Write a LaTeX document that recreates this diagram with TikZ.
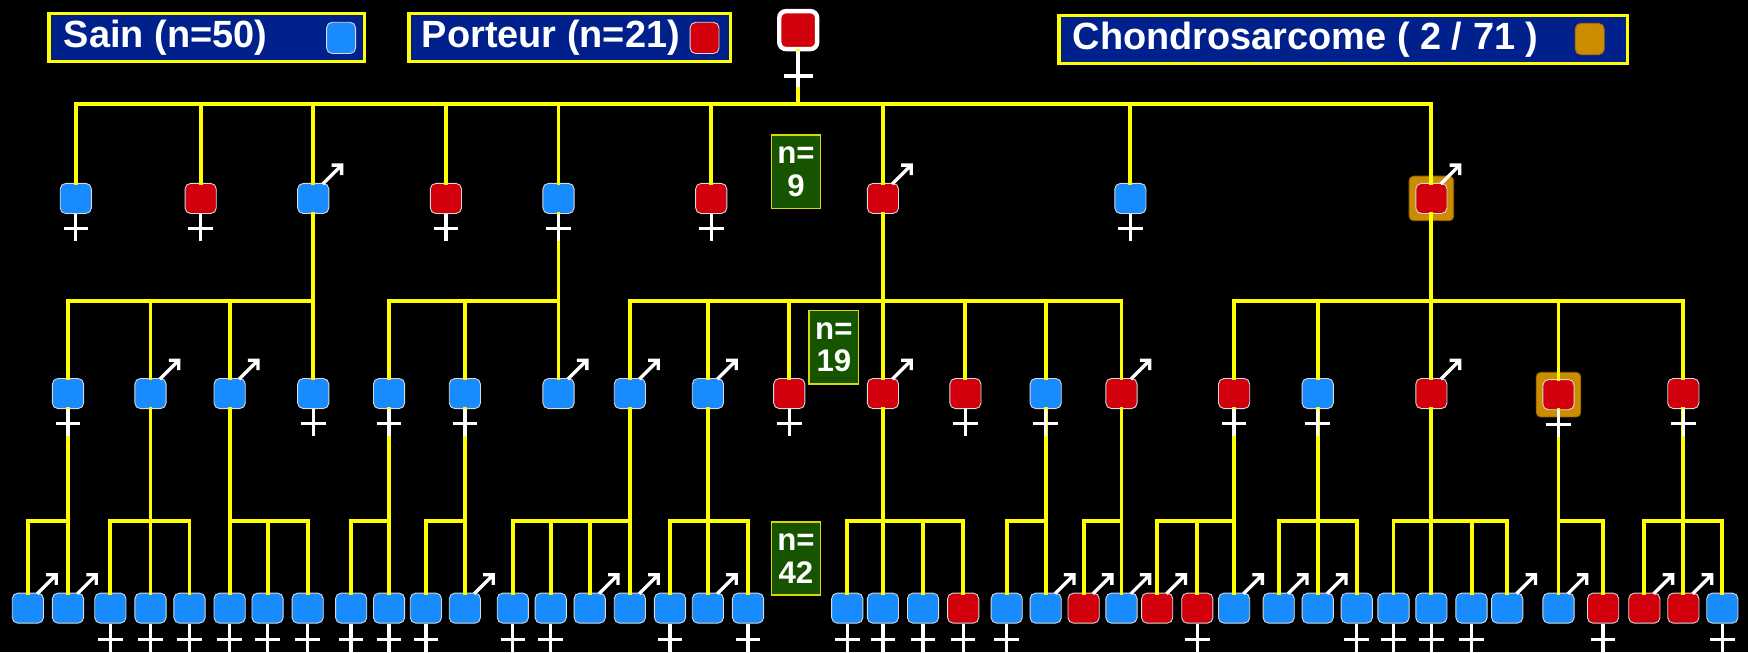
\documentclass[tikz,border=0pt]{standalone}
\usepackage{fontspec}
\setmainfont{Liberation Sans}
\definecolor{nblue}{RGB}{24,140,255}
\definecolor{nred}{RGB}{210,0,12}
\definecolor{ngold}{RGB}{204,140,0}
\definecolor{lblue}{RGB}{0,32,140}
\definecolor{ngreen}{RGB}{22,84,0}
\definecolor{pyellow}{RGB}{255,255,0}
\tikzset{
  link/.style={draw=pyellow, line width=1.75pt, line cap=rect},
  ind/.style={rectangle, rounded corners=2.5pt, draw=white!70!gray, line width=0.4pt, minimum width=14pt, minimum height=13.5pt, inner sep=0pt},
  bl/.style={ind, fill=nblue},
  rd/.style={ind, fill=nred},
  gthree/.style={minimum width=14pt, minimum height=13.5pt},
  hl/.style={rectangle, rounded corners=2pt, fill=ngold, draw=ngold!70!black, line width=0.4pt, minimum width=20pt, minimum height=20pt},
  sym/.style={draw=white, line width=1.5pt, line join=miter},
  legbox/.style={rectangle, fill=lblue, draw=pyellow, line width=1.5pt, minimum height=21.5pt, inner sep=0pt},
  legtext/.style={text=white, font=\fontsize{17}{20}\selectfont\bfseries, anchor=west, inner sep=0pt},
  legmark/.style={ind, minimum width=13pt, minimum height=14pt},
  nbox/.style={rectangle, fill=ngreen, draw=pyellow!85!black, line width=0.8pt, minimum width=22pt, minimum height=33pt, inner sep=0pt, text=white, align=center, font=\fontsize{14}{14.5}\selectfont\bfseries},
  rootnd/.style={rectangle, rounded corners=3pt, fill=nred, draw=white, line width=2pt, minimum size=17pt, inner sep=0pt}
}
\begin{document}
\begin{tikzpicture}[x=0.5pt,y=-0.5pt]
\useasboundingbox (0,0) rectangle (1568,585);
\fill[black] (0,0) rectangle (1568,585);

% legend
\node[legbox, minimum width=141.5pt] (l1) at (185.5,33.5) {};
\node[legtext] (l1t) at (57,34) {Sain (n=50)};
\node[legmark, fill=nblue] (l1m) at (306,34) {};
\node[legbox, minimum width=144pt] (l2) at (511,33.5) {};
\node[legtext] (l2t) at (378,34) {Porteur (n=21)};
\node[legmark, fill=nred] (l2m) at (632,34) {};
\node[legbox, minimum width=255pt] (l3) at (1205,35.5) {};
\node[legtext] (l3t) at (962,36) {Chondrosarcome ( 2 / 71 )};
\node[legmark, fill=ngold, draw=ngold!80!black] (l3m) at (1426,35) {};

% count boxes
\node[nbox] (n9) at (714,154) {n=\\9};
\node[nbox] (n19) at (748,311.5) {n=\\19};
\node[nbox] (n42) at (714,501) {n=\\42};

% highlights
\node[hl] (h1) at (1284,178) {};
\node[hl] (h2) at (1398,354) {};

% root
\node[rootnd] (r) at (716,27) {};

% generation 1
\node[bl] (a1) at (68,178) {};
\node[rd] (a2) at (180,178) {};
\node[bl] (a3) at (281,178) {};
\node[rd] (a4) at (400,178) {};
\node[bl] (a5) at (501,178) {};
\node[rd] (a6) at (638,178) {};
\node[rd] (a7) at (792,178) {};
\node[bl] (a8) at (1014,178) {};
\node[rd] (a9) at (1284,178) {};

% generation 2
\node[bl] (b1) at (61,353) {};
\node[bl] (b2) at (135,353) {};
\node[bl] (b3) at (206,353) {};
\node[bl] (b4) at (281,353) {};
\node[bl] (b5) at (349,353) {};
\node[bl] (b6) at (417,353) {};
\node[bl] (b7) at (501,353) {};
\node[bl] (b8) at (565,353) {};
\node[bl] (b9) at (635,353) {};
\node[rd] (b10) at (708,353) {};
\node[rd] (b11) at (792,353) {};
\node[rd] (b12) at (866,353) {};
\node[bl] (b13) at (938,353) {};
\node[rd] (b14) at (1006,353) {};
\node[rd] (b15) at (1107,353) {};
\node[bl] (b16) at (1182,353) {};
\node[rd] (b17) at (1284,353) {};
\node[rd] (b18) at (1398,354) {};
\node[rd] (b19) at (1510,353) {};

% generation 3
\foreach \n/\x/\s in {c1/25/bl,c2/61/bl,c3/99/bl,c4/135/bl,c5/170/bl,c6/206/bl,c7/240/bl,c8/276/bl,
  c9/315/bl,c10/349/bl,c11/382/bl,c12/417/bl,c13/460/bl,c14/494/bl,c15/529/bl,c16/565/bl,
  c17/601/bl,c18/635/bl,c19/671/bl,c20/760/bl,c21/792/bl,c22/828/bl,c23/864/rd,c24/903/bl,
  c25/938/bl,c26/972/rd,c27/1006/bl,c28/1038/rd,c29/1074/rd,c30/1107/bl,c31/1147/bl,
  c32/1182/bl,c33/1217/bl,c34/1250/bl,c35/1284/bl,c36/1320/bl,c37/1352/bl,c38/1398/bl,
  c39/1438/rd,c40/1475/rd,c41/1510/rd,c42/1545/bl}
  \node[\s, gthree] (\n) at (\x,545.5) {};

% bar levels
\coordinate (y1) at (0,93);
\coordinate (y2) at (0,270);
\coordinate (y3) at (0,467);

% connectors
\draw[link] (r.south) -- (r |- y1);
\draw[link] (a1 |- y1) -- (a9 |- y1);
\foreach \c in {a1,a2,a3,a4,a5,a6,a7,a8,a9} \draw[link] (\c |- y1) -- (\c.north);

\draw[link] (a3.south) -- (a3 |- y2) (b1 |- y2) -- (b4 |- y2);
\foreach \c in {b1,b2,b3,b4} \draw[link] (\c |- y2) -- (\c.north);
\draw[link] (a5.south) -- (a5 |- y2) (b5 |- y2) -- (b7 |- y2);
\foreach \c in {b5,b6,b7} \draw[link] (\c |- y2) -- (\c.north);
\draw[link] (a7.south) -- (a7 |- y2) (b8 |- y2) -- (b14 |- y2);
\foreach \c in {b8,b9,b10,b11,b12,b13,b14} \draw[link] (\c |- y2) -- (\c.north);
\draw[link] (a9.south) -- (a9 |- y2) (b15 |- y2) -- (b19 |- y2);
\foreach \c in {b15,b16,b17,b18,b19} \draw[link] (\c |- y2) -- (\c.north);

\draw[link] (b1.south) -- (b1 |- y3) (c1 |- y3) -- (c2 |- y3);
\foreach \c in {c1,c2} \draw[link] (\c |- y3) -- (\c.north);
\draw[link] (b2.south) -- (b2 |- y3) (c3 |- y3) -- (c5 |- y3);
\foreach \c in {c3,c4,c5} \draw[link] (\c |- y3) -- (\c.north);
\draw[link] (b3.south) -- (b3 |- y3) (c6 |- y3) -- (c8 |- y3);
\foreach \c in {c6,c7,c8} \draw[link] (\c |- y3) -- (\c.north);
\draw[link] (b5.south) -- (b5 |- y3) (c9 |- y3) -- (c10 |- y3);
\foreach \c in {c9,c10} \draw[link] (\c |- y3) -- (\c.north);
\draw[link] (b6.south) -- (b6 |- y3) (c11 |- y3) -- (c12 |- y3);
\foreach \c in {c11,c12} \draw[link] (\c |- y3) -- (\c.north);
\draw[link] (b8.south) -- (b8 |- y3) (c13 |- y3) -- (c16 |- y3);
\foreach \c in {c13,c14,c15,c16} \draw[link] (\c |- y3) -- (\c.north);
\draw[link] (b9.south) -- (b9 |- y3) (c17 |- y3) -- (c19 |- y3);
\foreach \c in {c17,c18,c19} \draw[link] (\c |- y3) -- (\c.north);
\draw[link] (b11.south) -- (b11 |- y3) (c20 |- y3) -- (c23 |- y3);
\foreach \c in {c20,c21,c22,c23} \draw[link] (\c |- y3) -- (\c.north);
\draw[link] (b13.south) -- (b13 |- y3) (c24 |- y3) -- (c25 |- y3);
\foreach \c in {c24,c25} \draw[link] (\c |- y3) -- (\c.north);
\draw[link] (b14.south) -- (b14 |- y3) (c26 |- y3) -- (c27 |- y3);
\foreach \c in {c26,c27} \draw[link] (\c |- y3) -- (\c.north);
\draw[link] (b15.south) -- (b15 |- y3) (c28 |- y3) -- (c30 |- y3);
\foreach \c in {c28,c29,c30} \draw[link] (\c |- y3) -- (\c.north);
\draw[link] (b16.south) -- (b16 |- y3) (c31 |- y3) -- (c33 |- y3);
\foreach \c in {c31,c32,c33} \draw[link] (\c |- y3) -- (\c.north);
\draw[link] (b17.south) -- (b17 |- y3) (c34 |- y3) -- (c37 |- y3);
\foreach \c in {c34,c35,c36,c37} \draw[link] (\c |- y3) -- (\c.north);
\draw[link] (b18.south) -- (b18 |- y3) (c38 |- y3) -- (c39 |- y3);
\foreach \c in {c38,c39} \draw[link] (\c |- y3) -- (\c.north);
\draw[link] (b19.south) -- (b19 |- y3) (c40 |- y3) -- (c42 |- y3);
\foreach \c in {c40,c41,c42} \draw[link] (\c |- y3) -- (\c.north);

% sex symbols
\draw[sym, line width=2pt] (r.south) -- ++(0,32) (r.south) ++(-13,22) -- ++(26,0);
\foreach \n in {a1,a2,a4,a5,a6,a8,b1,b4,b5,b6,b10,b12,b13,b15,b16,b18,b19}
  \draw[sym] (\n.south) -- ++(0,24) (\n.south) ++(-11,13) -- ++(22,0);
\foreach \n in {c3,c4,c5,c6,c7,c8,c9,c10,c11,c13,c14,c17,c19,c20,c21,c22,c23,c24,c29,c33,c34,c35,c36,c39,c42}
  \draw[sym] (\n.south) -- ++(0,26) (\n.south) ++(-11,14) -- ++(22,0);
\foreach \n in {a3,a7,a9,b2,b3,b7,b8,b9,b11,b14,b17,
  c1,c2,c12,c15,c16,c18,c25,c26,c27,c28,c30,c31,c32,c37,c38,c40,c41}
  \draw[sym] (\n.north east) ++(-6,1) -- ++(17,-17) ++(-9,0) -- ++(9,0) -- ++(0,9);
\end{tikzpicture}
\end{document}
